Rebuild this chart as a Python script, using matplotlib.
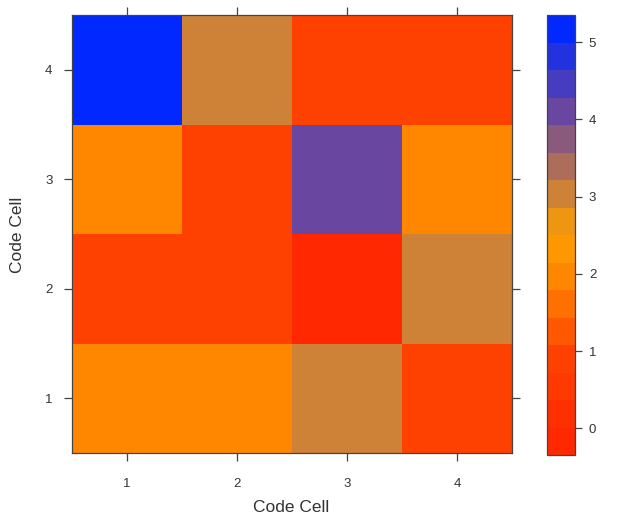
import matplotlib
matplotlib.use("Agg")
import matplotlib.pyplot as plt
import numpy as np
from matplotlib.colors import ListedColormap, BoundaryNorm, LinearSegmentedColormap

plt.rcParams["font.family"] = ["Liberation Sans", "DejaVu Sans"]

# code cell grid (rows: y = 1..4, cols: x = 1..4)
x_cells = [1, 2, 3, 4]
y_cells = [1, 2, 3, 4]
counts = [
    [2, 2, 3, 1],   # y = 1
    [1, 1, 0, 3],   # y = 2
    [2, 1, 4, 2],   # y = 3
    [5, 3, 1, 1],   # y = 4
]
cbar_ticks = [0, 1, 2, 3, 4, 5]

z = np.array(counts, dtype=float)

# lattice style: extend range by 7% and cut into 16 levels
lo, hi = z.min(), z.max()
pad = 0.07 * (hi - lo)
breaks = np.linspace(lo - pad, hi + pad, 17)
ramp = LinearSegmentedColormap.from_list("rob", [
    (0.0, "#ff2800"), (0.2, "#ff4100"), (0.4, "#ff8700"), (0.5, "#ffa000"),
    (0.6, "#cd8237"), (0.8, "#6946a0"), (1.0, "#0028ff")])
cols = ramp(np.linspace(0, 1, 16))
cmap = ListedColormap(cols)
norm = BoundaryNorm(breaks, cmap.N)

fig = plt.figure(figsize=(6.19, 5.21), dpi=100)
ax = fig.add_axes([0.1163, 0.1305, 0.7108, 0.8407])
cax = fig.add_axes([0.8837, 0.1260, 0.0452, 0.8452])

xe = np.arange(0.5, len(x_cells) + 1, 1.0)
ye = np.arange(0.5, len(y_cells) + 1, 1.0)
ax.pcolormesh(xe, ye, z, cmap=cmap, norm=norm)
ax.set_xlim(0.5, 4.5)
ax.set_ylim(0.5, 4.5)

edge = "#444444"
for a in (ax, cax):
    for s in a.spines.values():
        s.set_color(edge)
        s.set_linewidth(0.9)

ax.set_xticks(x_cells)
ax.set_yticks(y_cells)
ax.tick_params(axis="both", direction="out", length=6, width=0.9, color=edge,
               labelsize=9.5, labelcolor="#333333", top=True, right=True, pad=8)
ax.tick_params(axis="x", pad=12)

fig.text(291 / 619, 1 - 507 / 521, "Code Cell", ha="center", va="center",
         fontsize=12.5, color="#333333")
fig.text(18 / 619, 1 - 235 / 521, "Code Cell", ha="center", va="center",
         rotation=90, fontsize=12.5, color="#333333")

cb = fig.colorbar(plt.cm.ScalarMappable(norm=norm, cmap=cmap), cax=cax,
                  boundaries=breaks, ticks=cbar_ticks)
cb.outline.set_edgecolor(edge)
cb.outline.set_linewidth(0.9)
cax.minorticks_off()
cax.tick_params(direction="out", length=5, width=0.9, color=edge,
                labelsize=9.5, labelcolor="#333333", pad=5)

fig.savefig("out.png", dpi=100)
